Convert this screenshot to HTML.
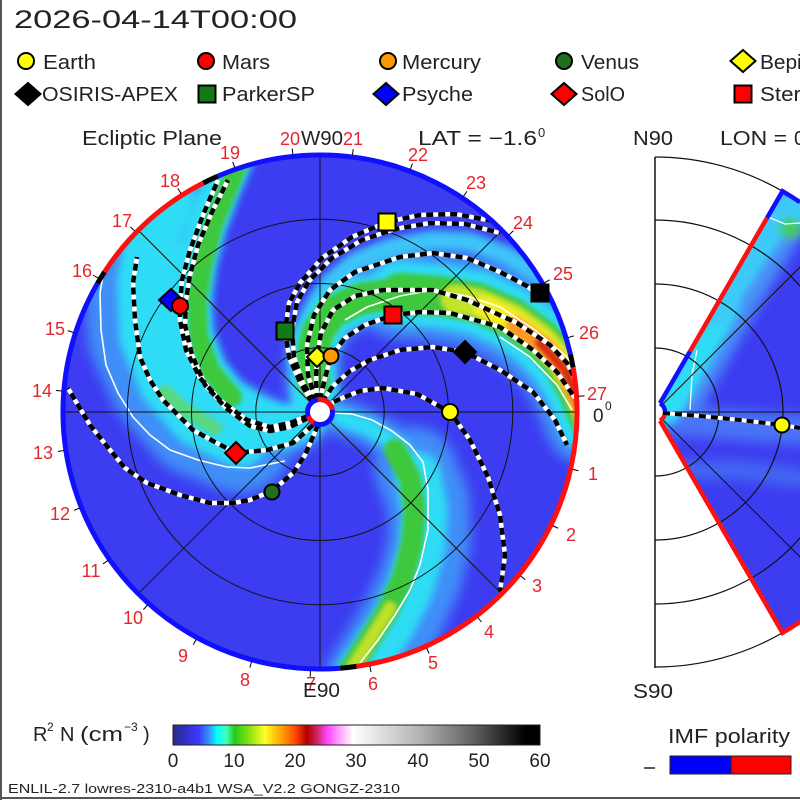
<!DOCTYPE html>
<html><head><meta charset="utf-8"><style>html,body{margin:0;padding:0;background:#fff;}svg{display:block}</style></head>
<body>
<svg width="800" height="800" viewBox="0 0 800 800" xmlns="http://www.w3.org/2000/svg" font-family="'Liberation Sans', Arial, sans-serif">
<defs>
<clipPath id="disk"><circle cx="320" cy="412" r="256"/></clipPath>
<clipPath id="wedge"><path d="M660,403.3 L782.5,191.2 A255,255 0 0 1 782.5,632.8 L660,420.7 A10,10 0 0 0 660,403.3 Z"/></clipPath>
<filter id="b6" x="-20%" y="-20%" width="140%" height="140%"><feGaussianBlur stdDeviation="6"/></filter>
<filter id="b4" x="-20%" y="-20%" width="140%" height="140%"><feGaussianBlur stdDeviation="4"/></filter>
<filter id="b3" x="-20%" y="-20%" width="140%" height="140%"><feGaussianBlur stdDeviation="2.5"/></filter>
<linearGradient id="cb" x1="0" x2="1" y1="0" y2="0">
<stop offset="0" stop-color="#2a2a88"/>
<stop offset="0.035" stop-color="#3030c8"/>
<stop offset="0.07" stop-color="#3a3aff"/>
<stop offset="0.1" stop-color="#3399ff"/>
<stop offset="0.12" stop-color="#00ffff"/>
<stop offset="0.145" stop-color="#44ffbb"/>
<stop offset="0.167" stop-color="#22cc22"/>
<stop offset="0.2" stop-color="#77dd11"/>
<stop offset="0.25" stop-color="#ffff22"/>
<stop offset="0.3" stop-color="#ff9900"/>
<stop offset="0.335" stop-color="#ff4400"/>
<stop offset="0.365" stop-color="#b00000"/>
<stop offset="0.39" stop-color="#cc2255"/>
<stop offset="0.42" stop-color="#ff44ff"/>
<stop offset="0.45" stop-color="#ff99ff"/>
<stop offset="0.49" stop-color="#ffffff"/>
<stop offset="0.67" stop-color="#b4b4b4"/>
<stop offset="0.83" stop-color="#5a5a5a"/>
<stop offset="0.96" stop-color="#000000"/>
<stop offset="1" stop-color="#000000"/>
</linearGradient>
</defs>
<rect width="800" height="800" fill="#fff"/>

<!-- ===== Ecliptic disk ===== -->
<g clip-path="url(#disk)">
<circle cx="320" cy="412" r="258" fill="#3c3cf0"/>
<g filter="url(#b6)" fill="none" stroke-linecap="round" stroke-linejoin="round" stroke="#3f8ef8">
<path d="M314,392 L312,362 L317,336 L332,314 L360,300 L400,293" stroke-width="54"/>
<path d="M400,293 L440,296 L478,303 L512,318 L540,338 L562,362 L578,390 L590,420" stroke-width="92"/>
<path d="M328,413 L360,424 L393,442 L415,468" stroke-width="36"/>
<path d="M415,468 L428,500 L430,540 L420,580 L404,615 L385,648 L365,680" stroke-width="82"/>
<path d="M305,428 L283,438 L240,441" stroke-width="40"/>
<path d="M240,441 L196,423 L162,384 L140,336 L136,283 L146,226 L160,195" stroke-width="105"/>
</g>
<g filter="url(#b4)" fill="none" stroke-linecap="round" stroke-linejoin="round" stroke="#2fdcf5">
<path d="M318,385 L308,350 L312,315 L328,285 L355,262 L390,248 L433,240 L470,242 L505,255 L540,275 L565,295" stroke-width="20" stroke="#3cc4f8"/>
<path d="M314,392 L312,362 L317,336 L332,314 L360,300 L400,293" stroke-width="46"/>
<path d="M400,293 L440,296 L478,303 L512,318 L540,338 L562,362 L578,390 L590,420" stroke-width="64"/>
<path d="M340,417 L370,428 L400,447 L418,475" stroke-width="18"/>
<path d="M418,475 L425,510 L422,550 L410,590 L392,625 L372,655 L355,680" stroke-width="46"/>
<path d="M300,430 L283,437 L240,439" stroke-width="24"/>
<path d="M240,439 L198,419 L166,382 L147,336 L145,283 L155,226 L166,195" stroke-width="56"/>
<path d="M305,420 L285,425 L255,415 L228,397 L207,370 L194,335 L192,300 L197,262 L207,225 L222,185 L235,155" stroke-width="40"/>
</g>
<g filter="url(#b3)" fill="none" stroke-linecap="round" stroke-linejoin="round">
<path d="M314,382 L312,358 L317,333 L332,312 L360,299 L400,293" stroke-width="32" stroke="#3cc83c"/>
<path d="M400,293 L440,296 L478,303 L512,318 L540,338 L562,362 L578,390 L590,420" stroke-width="40" stroke="#3cc83c"/>
<path d="M395,450 L410,478 L415,510 L412,545 L402,580 L387,612 L368,642 L350,670" stroke-width="22" stroke="#3cc83c"/>
<path d="M232,397 L210,370 L198,335 L197,300 L203,262 L213,225 L228,188 L240,158" stroke-width="20" stroke="#3cc83c"/>
<path d="M215,428 L185,410 L165,392" stroke-width="14" stroke="#5ad880"/>
<path d="M455,299 L478,303 L512,318 L540,338 L562,362 L578,390 L590,420" stroke-width="28" stroke="#c4e42a"/>
<path d="M485,307 L515,322 L542,342 L562,364 L577,392 L588,420" stroke-width="22" stroke="#f4ee22"/>
<path d="M515,325 L545,346 L563,368 L576,394 L586,420" stroke-width="18" stroke="#ff9820"/>
<path d="M540,343 L565,370 L577,396 L586,420" stroke-width="11" stroke="#d82a14"/>
<path d="M390,608 L370,640 L352,668" stroke-width="12" stroke="#bfe22c"/>
</g>
<g fill="none" stroke="#fff" stroke-width="1.6" stroke-linejoin="round">
<polyline points="335,413 352,414 372,420 392,431 410,445 423,462 428,490 428,530 420,565 410,590 395,615 378,640 360,663 352,675"/>
<polyline points="285,461 250,468 227,467 198,460 170,450 150,435 133,417 118,393 106,365 101,330 100,293 104,270"/>
<polyline points="345,320 367,307 400,296 433,290 467,296 500,307 535,330 567,357 580,380"/>
<polyline points="500,337 530,357 557,385 572,410"/>
</g>
<g fill="none" stroke="#111" stroke-width="1">
<circle cx="320" cy="412" r="64.25"/>
<circle cx="320" cy="412" r="128.5"/>
<circle cx="320" cy="412" r="192.75"/>
<line x1="60" y1="412" x2="580" y2="412"/>
<line x1="320" y1="152" x2="320" y2="672"/>
<line x1="135" y1="597" x2="505" y2="227"/>
<line x1="135" y1="227" x2="505" y2="597"/>
</g>
<g fill="none" stroke-linejoin="round">
<g stroke="#fff" stroke-width="4.5">
<polyline points="312,402 300,382 289,357 285,331 289,303 300,283 322,258 352,237 387,222 420,215 455,214 493,221"/>
<polyline points="314,401 303,383 294,357 292,330 297,302 309,281 332,258 362,240 395,229 430,223 465,224 500,233"/>
<polyline points="316,401 308,375 307,345 314,315 330,290 355,272 400,257 433,253 467,258 500,272 527,286 545,300"/>
<polyline points="317,400 316,380 317,357 321,333 333,310 355,296 383,290 433,290 467,300 517,323 550,345 567,363 577,383"/>
<polyline points="320,400 325,378 331,356 345,338 365,325 393,315 420,312 450,313 500,327 533,350 557,372 575,398"/>
<polyline points="322,402 333,386 350,371 370,360 400,350 433,347 465,352 500,370 533,392 555,420 567,445"/>
<polyline points="323,407 340,399 360,391 383,388 417,394 450,412 470,440 488,477 500,515 505,555 500,592"/>
<polyline points="308,416 290,423 270,427 247,420 220,400 200,378 186,350 180,320 180,306 182,280 190,250 203,215 218,180"/>
<polyline points="308,418 290,427 270,431 250,426 226,408 205,385 192,355 185,325 186,300 190,275 198,245 212,212 228,180"/>
<polyline points="313,425 293,443 267,450 236,453 213,441 193,430 163,400 150,380 140,357 135,320 133,283 137,257"/>
<polyline points="318,425 305,455 293,473 272,491 250,500 233,503 210,503 180,495 147,483 125,468 110,450 90,425 75,400 68,388"/>
</g>
<g stroke="#000" stroke-width="4.5" stroke-dasharray="7 5">
<polyline points="312,402 300,382 289,357 285,331 289,303 300,283 322,258 352,237 387,222 420,215 455,214 493,221"/>
<polyline points="314,401 303,383 294,357 292,330 297,302 309,281 332,258 362,240 395,229 430,223 465,224 500,233"/>
<polyline points="316,401 308,375 307,345 314,315 330,290 355,272 400,257 433,253 467,258 500,272 527,286 545,300"/>
<polyline points="317,400 316,380 317,357 321,333 333,310 355,296 383,290 433,290 467,300 517,323 550,345 567,363 577,383"/>
<polyline points="320,400 325,378 331,356 345,338 365,325 393,315 420,312 450,313 500,327 533,350 557,372 575,398"/>
<polyline points="322,402 333,386 350,371 370,360 400,350 433,347 465,352 500,370 533,392 555,420 567,445"/>
<polyline points="323,407 340,399 360,391 383,388 417,394 450,412 470,440 488,477 500,515 505,555 500,592"/>
<polyline points="308,416 290,423 270,427 247,420 220,400 200,378 186,350 180,320 180,306 182,280 190,250 203,215 218,180"/>
<polyline points="308,418 290,427 270,431 250,426 226,408 205,385 192,355 185,325 186,300 190,275 198,245 212,212 228,180"/>
<polyline points="313,425 293,443 267,450 236,453 213,441 193,430 163,400 150,380 140,357 135,320 133,283 137,257"/>
<polyline points="318,425 305,455 293,473 272,491 250,500 233,503 210,503 180,495 147,483 125,468 110,450 90,425 75,400 68,388"/>
</g>
</g>
</g>

<!-- outer ring -->
<g fill="none" stroke-width="5">
<path d="M97.4,283.5 A257,257 0 0 0 340.2,668.2" stroke="#1010ff"/>
<path d="M340.2,668.2 A257,257 0 0 0 356.6,666.4" stroke="#000"/>
<path d="M356.6,666.4 A257,257 0 0 0 573.1,367.4" stroke="#ff1010"/>
<path d="M573.1,367.4 A257,257 0 0 0 570.4,354.2" stroke="#000"/>
<path d="M570.4,354.2 A257,257 0 0 0 217.5,176.3" stroke="#1010ff"/>
<path d="M217.5,176.3 A257,257 0 0 0 203.3,183.0" stroke="#000"/>
<path d="M203.3,183.0 A257,257 0 0 0 104.5,272.0" stroke="#ff1010"/>
<path d="M104.5,272.0 A257,257 0 0 0 97.4,283.5" stroke="#000"/>
</g>
<g stroke="#000" stroke-width="1">
<line x1="579" y1="412" x2="585" y2="412" transform="rotate(12.8 320 412)"/>
<line x1="579" y1="412" x2="585" y2="412" transform="rotate(26.02 320 412)"/>
<line x1="579" y1="412" x2="585" y2="412" transform="rotate(39.24 320 412)"/>
<line x1="579" y1="412" x2="585" y2="412" transform="rotate(52.46 320 412)"/>
<line x1="579" y1="412" x2="585" y2="412" transform="rotate(65.68 320 412)"/>
<line x1="579" y1="412" x2="585" y2="412" transform="rotate(78.9 320 412)"/>
<line x1="579" y1="412" x2="585" y2="412" transform="rotate(92.12 320 412)"/>
<line x1="579" y1="412" x2="585" y2="412" transform="rotate(105.34 320 412)"/>
<line x1="579" y1="412" x2="585" y2="412" transform="rotate(118.56 320 412)"/>
<line x1="579" y1="412" x2="585" y2="412" transform="rotate(131.78 320 412)"/>
<line x1="579" y1="412" x2="585" y2="412" transform="rotate(145 320 412)"/>
<line x1="579" y1="412" x2="585" y2="412" transform="rotate(158.22 320 412)"/>
<line x1="579" y1="412" x2="585" y2="412" transform="rotate(171.44 320 412)"/>
<line x1="579" y1="412" x2="585" y2="412" transform="rotate(184.66 320 412)"/>
<line x1="579" y1="412" x2="585" y2="412" transform="rotate(197.88 320 412)"/>
<line x1="579" y1="412" x2="585" y2="412" transform="rotate(211.1 320 412)"/>
<line x1="579" y1="412" x2="585" y2="412" transform="rotate(224.32 320 412)"/>
<line x1="579" y1="412" x2="585" y2="412" transform="rotate(237.54 320 412)"/>
<line x1="579" y1="412" x2="585" y2="412" transform="rotate(250.76 320 412)"/>
<line x1="579" y1="412" x2="585" y2="412" transform="rotate(263.98 320 412)"/>
<line x1="579" y1="412" x2="585" y2="412" transform="rotate(277.2 320 412)"/>
<line x1="579" y1="412" x2="585" y2="412" transform="rotate(290.42 320 412)"/>
<line x1="579" y1="412" x2="585" y2="412" transform="rotate(303.64 320 412)"/>
<line x1="579" y1="412" x2="585" y2="412" transform="rotate(316.86 320 412)"/>
<line x1="579" y1="412" x2="585" y2="412" transform="rotate(330.08 320 412)"/>
<line x1="579" y1="412" x2="585" y2="412" transform="rotate(343.3 320 412)"/>
<line x1="579" y1="412" x2="585" y2="412" transform="rotate(356.52 320 412)"/>
</g>

<!-- red day labels -->
<g fill="#e3262b" font-size="18" text-anchor="middle">
<text x="593" y="480">1</text>
<text x="571" y="541">2</text>
<text x="537" y="592">3</text>
<text x="489" y="638">4</text>
<text x="433" y="669">5</text>
<text x="373" y="690">6</text>
<text x="311" y="690">7</text>
<text x="245" y="686">8</text>
<text x="183" y="662">9</text>
<text x="133" y="624">10</text>
<text x="91" y="577">11</text>
<text x="60" y="520">12</text>
<text x="43" y="459">13</text>
<text x="42" y="397">14</text>
<text x="55" y="335">15</text>
<text x="82" y="277">16</text>
<text x="122" y="227">17</text>
<text x="170" y="187">18</text>
<text x="230" y="159">19</text>
<text x="290" y="145">20</text>
<text x="353" y="145">21</text>
<text x="418" y="161">22</text>
<text x="476" y="189">23</text>
<text x="523" y="229">24</text>
<text x="563" y="280">25</text>
<text x="589" y="339">26</text>
<text x="597" y="400">27</text>
</g>

<!-- Sun -->
<circle cx="320" cy="412" r="12.5" fill="#fff" stroke="#1010ff" stroke-width="5"/>
<path d="M317.8,399.7 A12.5,12.5 0 0 1 332.3,409.8" fill="none" stroke="#ff1010" stroke-width="5"/>
<path d="M308.3,416.3 A12.5,12.5 0 0 0 313.8,422.8" fill="none" stroke="#ff1010" stroke-width="5"/>

<!-- markers on ecliptic -->
<g stroke="#000" stroke-width="2">
<rect x="378.5" y="213.5" width="17" height="17" fill="#ffff00"/>
<rect x="531.5" y="284.5" width="17" height="17" fill="#000"/>
<rect x="276.5" y="322.5" width="17" height="17" fill="#157a15"/>
<rect x="384.5" y="306.5" width="17" height="17" fill="#ff0000"/>
<path d="M171,289 L183,300 L171,311 L159,300 Z" fill="#0000ff"/>
<circle cx="180" cy="306" r="8" fill="#ff0000"/>
<path d="M317,347 L327,357 L317,367 L307,357 Z" fill="#ffff00"/>
<circle cx="331" cy="356" r="7.5" fill="#ff9900"/>
<path d="M465,341 L476,352 L465,363 L454,352 Z" fill="#000"/>
<path d="M236,442 L247,453 L236,464 L225,453 Z" fill="#ff0000"/>
<circle cx="272" cy="492" r="7.5" fill="#1f6f1f"/>
<circle cx="450" cy="412" r="8" fill="#ffff00"/>
</g>

<!-- ===== Meridional plane ===== -->
<g clip-path="url(#wedge)">
<rect x="640" y="180" width="170" height="470" fill="#3c3cf0"/>
<g filter="url(#b6)" fill="none" stroke-linecap="round" stroke-linejoin="round">
<path d="M668,400 L700,345 L740,275 L780,210 L800,200" stroke="#4a90f8" stroke-width="64"/>
<path d="M662,420 L720,424 L800,430" stroke="#4a74f6" stroke-width="30"/>
<path d="M680,470 L740,470 L800,478" stroke="#4366f2" stroke-width="20"/>
</g>
<g filter="url(#b4)" fill="none" stroke-linecap="round" stroke-linejoin="round">
<path d="M664,405 L680,375 L700,340 L720,305" stroke="#2fdcf5" stroke-width="40"/>
<path d="M715,310 L745,262 L775,220 L800,205" stroke="#3ccaf8" stroke-width="34"/>
<circle cx="697" cy="322" r="9" fill="#44cc66" stroke="none"/>
<circle cx="790" cy="228" r="11" fill="#44cc66" stroke="none"/>
</g>
<g fill="none" stroke="#fff" stroke-width="1.3">
<polyline points="697,350 692,375 690,410"/>
<polyline points="768,217 785,224 800,223"/>
</g>
<g stroke="#111" stroke-width="1">
<line x1="655" y1="412" x2="800" y2="412"/>
<line x1="655" y1="412" x2="805" y2="262"/>
<line x1="655" y1="412" x2="805" y2="562"/>
</g>
</g>
<g fill="none" stroke="#111" stroke-width="1.2">
<path d="M655,348 A64,64 0 0 1 655,476"/>
<path d="M655,284 A128,128 0 0 1 655,540"/>
<path d="M655,220 A192,192 0 0 1 655,604"/>
<path d="M655,157 A255,255 0 0 1 782.5,191.2"/>
<path d="M782.5,632.8 A255,255 0 0 1 655,667"/>
<line x1="655" y1="157" x2="655" y2="668" stroke-width="1.5"/>
</g>
<g fill="none" stroke-width="4.5">
<path d="M660,403.3 L690,351.4" stroke="#1010ff"/>
<path d="M690,351.4 L767,218" stroke="#ff1010"/>
<path d="M767,218 L782.5,191.2 A255,255 0 0 1 800,202.2" stroke="#1010ff"/>
<path d="M660,420.7 L782.5,632.8 A255,255 0 0 0 800,621.8" stroke="#ff1010"/>
<path d="M660,403.3 A10,10 0 0 1 665,412" stroke="#1010ff"/>
<path d="M665,412 A10,10 0 0 1 660,420.7" stroke="#ff1010"/>
</g>
<polyline points="663,413 700,416 740,420 782,425 800,428" fill="none" stroke="#fff" stroke-width="4"/>
<polyline points="663,413 700,416 740,420 782,425 800,428" fill="none" stroke="#000" stroke-width="4" stroke-dasharray="7 5"/>
<circle cx="782" cy="425" r="7.5" fill="#ffff00" stroke="#000" stroke-width="2"/>

<!-- ===== Text ===== -->
<g fill="#222">
<text x="14" y="28" font-size="25" textLength="283" lengthAdjust="spacingAndGlyphs">2026-04-14T00:00</text>
<text x="43" y="69" font-size="20" textLength="53" lengthAdjust="spacingAndGlyphs">Earth</text>
<text x="222" y="69" font-size="20" textLength="48" lengthAdjust="spacingAndGlyphs">Mars</text>
<text x="402" y="69" font-size="20" textLength="79" lengthAdjust="spacingAndGlyphs">Mercury</text>
<text x="581" y="69" font-size="20" textLength="58" lengthAdjust="spacingAndGlyphs">Venus</text>
<text x="760" y="69" font-size="20" textLength="125" lengthAdjust="spacingAndGlyphs">BepiColombo</text>
<text x="42" y="101" font-size="20" textLength="136" lengthAdjust="spacingAndGlyphs">OSIRIS-APEX</text>
<text x="222" y="101" font-size="20" textLength="93" lengthAdjust="spacingAndGlyphs">ParkerSP</text>
<text x="402" y="101" font-size="20" textLength="71" lengthAdjust="spacingAndGlyphs">Psyche</text>
<text x="581" y="101" font-size="20" textLength="44" lengthAdjust="spacingAndGlyphs">SolO</text>
<text x="760" y="101" font-size="20" textLength="88" lengthAdjust="spacingAndGlyphs">Stereo-A</text>

<text x="82" y="145" font-size="20" textLength="140" lengthAdjust="spacingAndGlyphs">Ecliptic Plane</text>
<text x="301" y="145" font-size="20" textLength="42" lengthAdjust="spacingAndGlyphs">W90</text>
<text x="418" y="145" font-size="20" textLength="119" lengthAdjust="spacingAndGlyphs">LAT = −1.6</text>
<text x="538" y="137" font-size="13">0</text>
<text x="633" y="145" font-size="20" textLength="40" lengthAdjust="spacingAndGlyphs">N90</text>
<text x="720" y="145" font-size="20" textLength="67" lengthAdjust="spacingAndGlyphs">LON =</text>
<text x="794" y="145" font-size="20">0</text>
<text x="593" y="422" font-size="19">0</text>
<text x="605" y="410" font-size="12">0</text>
<text x="303" y="697" font-size="20" textLength="37" lengthAdjust="spacingAndGlyphs">E90</text>
<text x="633" y="698" font-size="20" textLength="40" lengthAdjust="spacingAndGlyphs">S90</text>
</g>

<!-- legend markers -->
<g stroke="#000" stroke-width="2">
<circle cx="26" cy="61" r="8" fill="#ffff00"/>
<circle cx="206" cy="61" r="8" fill="#ff0000"/>
<circle cx="388" cy="61" r="8" fill="#ff9900"/>
<circle cx="564" cy="61" r="8" fill="#1f6f1f"/>
<path d="M743,50 L755.5,61 L743,72 L730.5,61 Z" fill="#ffff00"/>
<path d="M28,83 L40.5,94 L28,105 L15.5,94 Z" fill="#000"/>
<rect x="198.5" y="85.5" width="17" height="17" fill="#157a15"/>
<path d="M386,83 L398.5,94 L386,105 L373.5,94 Z" fill="#0000ff"/>
<path d="M564,83 L576.5,94 L564,105 L551.5,94 Z" fill="#ff0000"/>
<rect x="734.5" y="85.5" width="17" height="17" fill="#ff0000"/>
</g>

<!-- colorbar -->
<rect x="173" y="725" width="367" height="20" fill="url(#cb)" stroke="#222" stroke-width="1"/>
<g fill="#222" font-size="19" text-anchor="middle">
<text x="173" y="767">0</text>
<text x="234" y="767">10</text>
<text x="295" y="767">20</text>
<text x="356" y="767">30</text>
<text x="418" y="767">40</text>
<text x="479" y="767">50</text>
<text x="540" y="767">60</text>
</g>
<g fill="#222" font-size="20">
<text x="33" y="741">R</text>
<text x="47" y="731" font-size="12">2</text>
<text x="60" y="741">N</text>
<text x="80" y="741" textLength="43" lengthAdjust="spacingAndGlyphs">(cm</text>
<text x="124" y="731" font-size="12">−3</text>
<text x="143" y="741">)</text>
<text x="668" y="743" textLength="122" lengthAdjust="spacingAndGlyphs">IMF polarity</text>
</g>
<line x1="644" y1="768" x2="655" y2="768" stroke="#222" stroke-width="1.5"/>
<rect x="670" y="756" width="61" height="18" fill="#0000ff" stroke="#222" stroke-width="1"/>
<rect x="731" y="756" width="60" height="18" fill="#ff0000" stroke="#222" stroke-width="1"/>

<text x="8" y="793" font-size="13" fill="#222" textLength="392" lengthAdjust="spacingAndGlyphs">ENLIL-2.7 lowres-2310-a4b1 WSA_V2.2 GONGZ-2310</text>

<line x1="1" y1="0" x2="1" y2="800" stroke="#555" stroke-width="2"/>
<line x1="0" y1="798" x2="800" y2="798" stroke="#555" stroke-width="2"/>
</svg>
</body></html>
